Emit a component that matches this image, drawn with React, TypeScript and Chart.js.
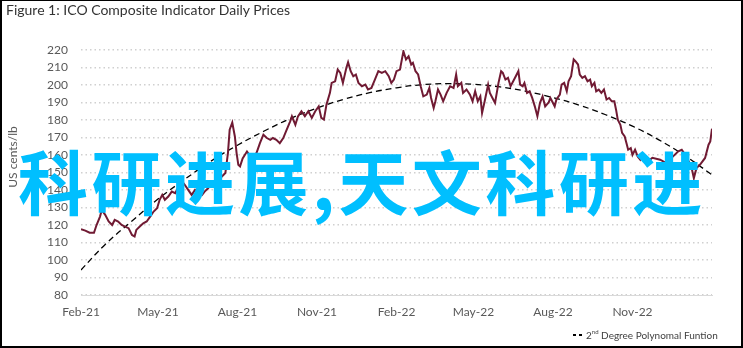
import React, { useEffect, useRef } from "react";
import { Chart, registerables } from "chart.js";

Chart.register(...registerables);

// Days since 1 Feb 2021
const priceDays = [
  0, 5, 10, 15, 18, 22, 24, 28, 32, 36, 39, 43, 47, 51, 55, 59, 62, 64, 68, 72,
  76, 80, 84, 88, 91, 94, 97, 101, 105, 109, 113, 117, 120, 124, 128, 132, 136, 140, 143, 147,
  151, 155, 159, 163, 167, 170, 172, 175, 178, 180, 182, 184, 187, 192, 196, 199, 203, 207, 211, 215,
  219, 222, 226, 230, 234, 238, 242, 244, 248, 251, 255, 259, 263, 267, 271, 275, 278, 281, 284, 288,
  290, 294, 297, 300, 303, 307, 309, 312, 315, 318, 321, 325, 329, 332, 336, 340, 344, 348, 352, 356,
  359, 362, 365, 369, 373, 376, 379, 382, 384, 387, 390, 393, 396, 400, 403, 405, 408, 410, 413, 416,
  419, 423, 427, 431, 434, 436, 440, 442, 446, 450, 453, 456, 459, 462, 464, 467, 471, 473, 476, 479,
  483, 486, 488, 491, 494, 497, 500, 503, 506, 508, 511, 513, 516, 519, 522, 525, 528, 531, 534, 537,
  541, 543, 545, 548, 550, 554, 556, 559, 562, 564, 567, 570, 572, 575, 577, 580, 583, 586, 589, 591,
  594, 596, 599, 602, 605, 608, 611, 614, 617, 619, 621, 624, 626, 629, 631, 633, 636, 638, 641, 644,
  647, 649, 654, 661, 670, 677, 685, 691, 695, 699, 703, 706, 709, 712, 716, 722, 726, 728, 730,
];
const prices = [
  117.6, 116.8, 115.6, 115.6, 120.0, 124.8, 128.6, 125.8, 122.0, 120.0, 122.9, 122.0, 120.0, 119.1, 118.2, 114.3, 113.4, 117.2, 119.1, 121.0,
  122.0, 124.8, 127.7, 129.6, 134.4, 137.2, 134.4, 136.3, 139.1, 138.2, 142.0, 144.9, 143.0, 140.1, 137.2, 140.1, 138.2, 137.2, 139.1, 141.0,
  143.9, 144.9, 145.8, 147.7, 149.7, 161.1, 174.5, 178.6, 170.6, 161.1, 154.4, 153.5, 158.0, 162.0, 159.2, 157.3, 161.1, 166.8, 171.6, 169.7,
  168.7, 169.7, 168.7, 166.8, 169.7, 174.5, 179.2, 182.1, 177.3, 182.1, 185.0, 182.1, 185.0, 181.2, 185.0, 187.8, 181.2, 180.2, 188.8, 195.5,
  201.2, 202.1, 208.8, 206.9, 201.2, 209.8, 213.0, 207.9, 205.0, 206.0, 201.2, 199.3, 200.2, 197.4, 198.3, 203.1, 207.9, 206.9, 207.9, 205.0,
  201.2, 203.1, 207.9, 208.8, 219.3, 214.6, 216.4, 211.7, 212.7, 207.9, 206.0, 199.3, 193.5, 194.5, 198.3, 192.6, 186.9, 190.7, 197.4, 194.5,
  190.7, 195.5, 199.3, 198.3, 206.0, 199.3, 201.2, 195.5, 197.4, 194.5, 190.7, 196.4, 190.7, 193.5, 184.0, 190.7, 200.2, 195.5, 192.6, 189.8,
  201.2, 207.9, 206.9, 203.1, 204.1, 199.3, 202.1, 205.0, 207.9, 200.2, 199.3, 201.2, 195.5, 196.4, 192.6, 187.8, 182.1, 189.8, 193.5, 187.8,
  190.0, 192.6, 190.7, 187.8, 191.7, 194.5, 200.2, 201.2, 196.4, 202.1, 205.0, 214.6, 213.6, 211.7, 206.0, 204.1, 205.0, 202.1, 203.1, 199.3,
  201.2, 196.4, 197.4, 195.5, 197.4, 191.7, 192.6, 190.7, 190.7, 185.9, 180.2, 177.3, 172.6, 170.6, 166.8, 163.0, 164.0, 160.1, 163.0, 159.2,
  157.3, 159.2, 155.5, 158.4, 157.3, 155.4, 159.2, 162.1, 163.0, 160.1, 156.3, 153.5, 146.8, 152.5, 154.4, 158.3, 165.9, 167.8, 175.0,
];

// 2nd degree polynomial trend, read at month starts
const trendDays = [0, 28, 59, 89, 120, 150, 181, 212, 242, 273, 303, 334, 365, 393, 424, 454, 485, 515, 546, 577, 607, 638, 668, 699, 730];
const trendValues = [
  94.3, 108.9, 122.3, 134.8, 146.1, 156.4, 165.6, 173.7, 180.8, 186.8, 191.7, 195.6, 198.4, 200.1, 200.8, 200.4, 198.9, 196.4, 192.8, 188.4,
  183.0, 176.5, 168.8, 159.5, 148.7,
];

const xTickDays = [0, 89, 181, 273, 365, 454, 546, 638];
const xTickLabels = ["Feb-21", "May-21", "Aug-21", "Nov-21", "Feb-22", "May-22", "Aug-22", "Nov-22"];

const yMin = 80;
const yMax = 220;
const yStep = 10;

const titleText = "Figure 1: ICO Composite Indicator Daily Prices";
const yTitle = "US cents/lb";
const watermark = "科研进展,天文科研进";

const FONT = "Lato, 'Open Sans', sans-serif";

export default function App() {
  const ref = useRef<HTMLCanvasElement | null>(null);

  useEffect(() => {
    document.body.style.margin = "0";
    const canvas = ref.current;
    if (!canvas) return;
    const chart = new Chart(canvas, {
      type: "line",
      data: {
        datasets: [
          {
            label: "Price",
            data: priceDays.map((d, i) => ({ x: d, y: prices[i] })),
            borderColor: "#701a33",
            borderWidth: 2,
            pointRadius: 0,
            tension: 0,
          },
          {
            label: "2nd Degree Polynomal Funtion",
            data: trendDays.map((d, i) => ({ x: d, y: trendValues[i] })),
            borderColor: "#000000",
            borderWidth: 1.3,
            borderDash: [6, 4],
            pointRadius: 0,
            tension: 0.4,
          },
        ],
      },
      options: {
        responsive: false,
        animation: false,
        layout: { padding: { top: 50, right: 31, bottom: 0, left: 0 } },
        plugins: {
          legend: { display: false },
          tooltip: { enabled: false },
          title: { display: false },
        },
        scales: {
          x: {
            type: "linear",
            min: 0,
            max: 730,
            afterFit: (s: any) => {
              s.height = 53;
            },
            afterBuildTicks: (s: any) => {
              s.ticks = xTickDays.map((v) => ({ value: v }));
            },
            ticks: {
              autoSkip: false,
              maxRotation: 0,
              padding: 10,
              color: "#595959",
              font: { family: FONT, size: 12 },
              callback: (v: any) => {
                const i = xTickDays.indexOf(Number(v));
                return i >= 0 ? xTickLabels[i] : "";
              },
            },
            grid: { display: false, drawTicks: false },
            border: { display: true, color: "#d9d9d9", width: 1 },
          },
          y: {
            min: yMin,
            max: yMax,
            afterFit: (s: any) => {
              s.width = 81;
            },
            ticks: {
              stepSize: yStep,
              padding: 13,
              color: "#595959",
              font: { family: FONT, size: 12 },
            },
            grid: { color: "#d0d0d0", lineWidth: 1.5, drawTicks: false },
            border: { display: false, dash: [1.5, 3] },
          },
        },
      },
    });
    return () => chart.destroy();
  }, []);

  return (
    <div style={{ position: "relative", width: 743, height: 348, overflow: "hidden", background: "#fff" }}>
      <canvas ref={ref} width={743} height={348} style={{ position: "absolute", left: 0, top: 0 }} />
      <div
        style={{
          position: "absolute",
          left: 6,
          top: 1,
          fontFamily: FONT,
          fontSize: 14,
          color: "#333",
          whiteSpace: "nowrap",
        }}
      >
        {titleText}
      </div>
      <div
        style={{
          position: "absolute",
          left: 12,
          top: 157,
          transform: "translate(-50%, -50%) rotate(-90deg)",
          fontFamily: FONT,
          fontSize: 12,
          color: "#595959",
          whiteSpace: "nowrap",
        }}
      >
        {yTitle}
      </div>
      <div
        style={{
          position: "absolute",
          left: 573,
          top: 329,
          fontFamily: FONT,
          fontSize: 10,
          color: "#404040",
          whiteSpace: "nowrap",
          display: "flex",
          alignItems: "center",
        }}
      >
        <span style={{ display: "inline-block", width: 3, height: 1.5, background: "#000", marginRight: 3 }} />
        <span style={{ display: "inline-block", width: 3, height: 1.5, background: "#000", marginRight: 4 }} />
        <span>
          2<sup style={{ fontSize: 6, verticalAlign: "top", lineHeight: 1 }}>nd</sup> Degree Polynomal Funtion
        </span>
      </div>
      <div
        style={{
          position: "absolute",
          left: 18,
          top: 145,
          fontFamily: "'Noto Sans CJK SC', sans-serif",
          fontWeight: 700,
          fontSize: 70,
          lineHeight: "70px",
          letterSpacing: 3.5,
          color: "#00bfff",
          whiteSpace: "nowrap",
        }}
      >
        {watermark}
      </div>
      <div
        style={{
          position: "absolute",
          left: 0,
          top: 0,
          width: 743,
          height: 348,
          boxSizing: "border-box",
          borderStyle: "solid",
          borderColor: "#000",
          borderWidth: "1px 2px 2px 2px",
          pointerEvents: "none",
        }}
      />
    </div>
  );
}
